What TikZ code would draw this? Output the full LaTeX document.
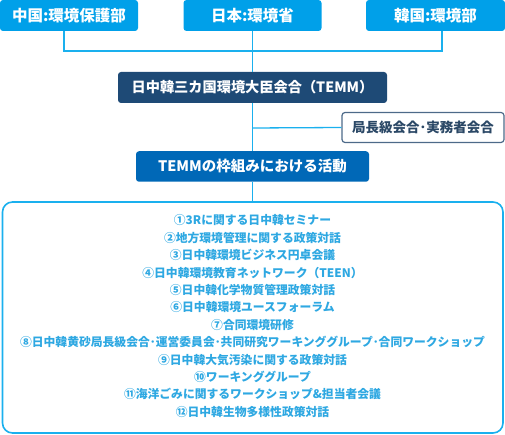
\documentclass[tikz,border=0pt]{standalone}
\usepackage{fontspec}
\setmainfont{Noto Sans CJK JP}
\definecolor{skyb}{HTML}{00A0E9}
\definecolor{linec}{HTML}{1AB0EE}
\definecolor{navy}{HTML}{1E4A76}
\definecolor{midb}{HTML}{0068B7}
\definecolor{greyb}{HTML}{4D6A89}
\definecolor{greyt}{HTML}{2B4866}
\definecolor{listc}{HTML}{2EA8E2}
\begin{document}
\begin{tikzpicture}[x=1pt,y=-1pt,
  box/.style={rounded corners=3pt, inner sep=0pt, text=white, font=\bfseries\fontsize{14}{16}\selectfont},
  topbox/.style={box, fill=skyb, minimum width=138pt, minimum height=31pt, font=\bfseries\fontsize{15.5}{17}\selectfont},
  conn/.style={draw=linec, line width=1.3pt}]
\useasboundingbox (0,0) rectangle (505,435);
\node[topbox] (china) at (69,15.5) {中国:環境保護部};
\node[topbox] (japan) at (252.5,15.5) {日本:環境省};
\node[topbox, minimum width=139pt] (korea) at (435.5,15.5) {韓国:環境部};
\node[box, fill=navy, minimum width=269pt, minimum height=31pt, font=\bfseries\fontsize{14.2}{16}\selectfont] (temm) at (252.5,87.5) {日中韓三カ国環境大臣会合（TEMM）};
\node[box, fill=white, draw=greyb, line width=1.2pt, text=greyt, minimum width=162pt, minimum height=30pt, font=\bfseries\fontsize{13.5}{16}\selectfont] (local) at (423,127.5) {局長級会合･実務者会合};
\node[box, fill=midb, minimum width=233pt, minimum height=30.5pt, font=\bfseries\fontsize{14.5}{16}\selectfont] (act) at (252.5,166.5) {TEMMの枠組みにおける活動};
\draw[draw=linec, line width=1.6pt, rounded corners=10pt, fill=white] (2.5,202) rectangle (503,433);
\node[inner sep=0pt, align=center, text=listc, font=\bfseries\fontsize{11.8}{17.4}\selectfont] (list) at (252.5,316.2) {%
①3Rに関する日中韓セミナー\\
②地方環境管理に関する政策対話\\
③日中韓環境ビジネス円卓会議\\
④日中韓環境教育ネットワーク（TEEN）\\
⑤日中韓化学物質管理政策対話\\
⑥日中韓環境ユースフォーラム\\
⑦合同環境研修\\
⑧日中韓黄砂局長級会合･運営委員会･共同研究ワーキンググループ･合同ワークショップ\\
⑨日中韓大気汚染に関する政策対話\\
⑩ワーキンググループ\\
⑪海洋ごみに関するワークショップ\&担当者会議\\
⑫日中韓生物多様性政策対話};
\coordinate (j) at (252.5,51);
\coordinate (bigtop) at (252.5,202);
\coordinate (br) at (252.5,128);
\draw[conn] ([xshift=-5pt]china.south) |- (j) -| ([xshift=6.5pt]korea.south);
\draw[conn] (japan.south) -- (temm.north);
\draw[conn] (temm.south) -- (act.north);
\draw[conn] (br) -- (local.west);
\draw[conn] (act.south) -- (bigtop);
\end{tikzpicture}
\end{document}
